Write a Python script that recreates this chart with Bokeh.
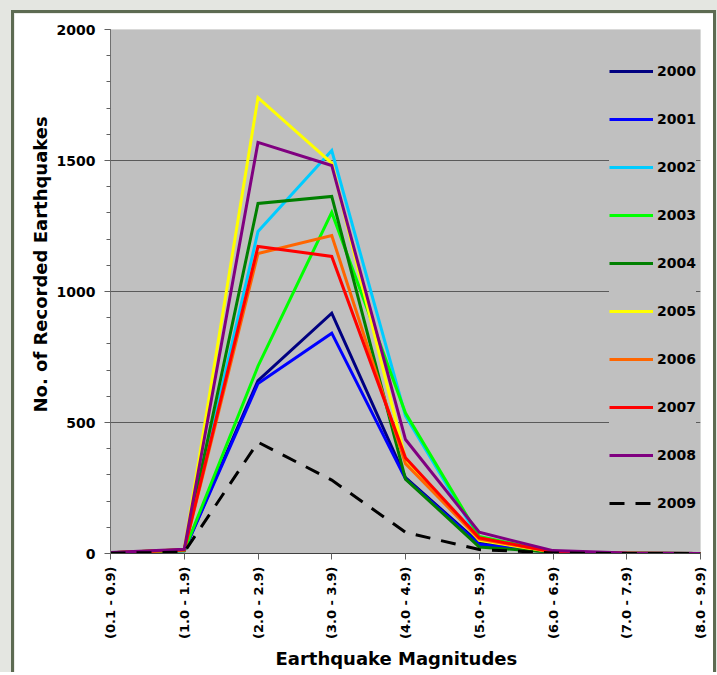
import math
from bokeh.plotting import figure
from bokeh.layouts import column
from bokeh.models import (FixedTicker, SingleIntervalTicker, Legend, LegendItem,
                          Title, Range1d)
from bokeh.embed import file_html
from bokeh.resources import INLINE

categories = ["(0.1 - 0.9)", "(1.0 - 1.9)", "(2.0 - 2.9)", "(3.0 - 3.9)", "(4.0 - 4.9)",
              "(5.0 - 5.9)", "(6.0 - 6.9)", "(7.0 - 7.9)", "(8.0 - 9.9)"]
years = ["2000", "2001", "2002", "2003", "2004", "2005", "2006", "2007", "2008", "2009"]

y2000 = [2, 12, 660, 917, 290, 40, 5, 1, 0]
y2001 = [2, 10, 649, 841, 285, 35, 4, 1, 0]
y2002 = [3, 14, 1229, 1538, 525, 55, 6, 1, 0]
y2003 = [2, 10, 715, 1302, 536, 65, 6, 1, 0]
y2004 = [3, 14, 1336, 1363, 284, 25, 5, 1, 0]
y2005 = [3, 15, 1740, 1490, 360, 50, 6, 1, 0]
y2006 = [3, 13, 1145, 1214, 343, 55, 6, 1, 0]
y2007 = [3, 14, 1172, 1134, 365, 60, 6, 1, 0]
y2008 = [4, 16, 1569, 1481, 435, 81, 11, 2, 0]
y2009 = [1, 5, 425, 280, 81, 15, 2, 0, 0]

series = [y2000, y2001, y2002, y2003, y2004, y2005, y2006, y2007, y2008, y2009]
colors = ["#000080", "#0000FF", "#00CCFF", "#00FF00", "#008000",
          "#FFFF00", "#FF6600", "#FF0000", "#800080", "#000000"]
dashes = ["solid"] * 9 + ["15 11"]

x = list(range(len(categories)))

FONT = "DejaVu Sans"

p = figure(width=705, height=662, output_backend="svg", toolbar_location=None,
           x_range=Range1d(0, len(categories) - 1), y_range=Range1d(0, 2000),
           min_border_left=96, min_border_right=19, min_border_top=16,
           min_border_bottom=122)
p.background_fill_color = "#c0c0c0"
p.border_fill_color = "white"
p.outline_line_color = None
p.styles = {"border-left": "3px solid #5d6b52", "border-top": "3px solid #5d6b52",
            "border-right": "3px solid #5d6b52"}

# grids
p.xgrid.visible = False
p.ygrid.ticker = FixedTicker(ticks=[500, 1000, 1500])
p.ygrid.grid_line_color = "#5a5a5a"
p.ygrid.grid_line_width = 1

# y axis
p.yaxis.ticker = SingleIntervalTicker(interval=500, num_minor_ticks=5)
p.yaxis.major_tick_out = 6
p.yaxis.major_tick_in = 0
p.yaxis.minor_tick_out = 4
p.yaxis.minor_tick_in = 0
p.yaxis.axis_line_color = "#707070"
p.yaxis.major_tick_line_color = "#606060"
p.yaxis.minor_tick_line_color = "#606060"
p.yaxis.major_label_standoff = 9
p.yaxis.major_label_text_font = FONT
p.yaxis.major_label_text_font_style = "bold"
p.yaxis.major_label_text_font_size = "14px"
p.yaxis.major_label_text_color = "black"

# x axis
p.xaxis.ticker = FixedTicker(ticks=x)
p.xaxis.major_label_overrides = {i: c for i, c in enumerate(categories)}
p.xaxis.major_label_orientation = math.pi / 2
p.xaxis.major_tick_out = 6
p.xaxis.major_tick_in = 0
p.xaxis.minor_tick_out = 0
p.xaxis.minor_tick_in = 0
p.xaxis.axis_line_color = "#404040"
p.xaxis.major_tick_line_color = "#606060"
p.xaxis.major_label_standoff = 7
p.xaxis.major_label_text_font = FONT
p.xaxis.major_label_text_font_style = "bold"
p.xaxis.major_label_text_font_size = "13px"
p.xaxis.major_label_text_color = "black"

# axis titles
ytitle = Title(text="No. of Recorded Earthquakes", align="left", offset=141,
               text_font=FONT, text_font_style="bold", text_font_size="18px",
               text_color="black", standoff=6)
p.add_layout(ytitle, "left")
xtitle = Title(text="Earthquake Magnitudes", align="left", offset=165,
               text_font=FONT, text_font_style="bold", text_font_size="18px",
               text_color="black", standoff=8)
p.add_layout(xtitle, "below")

items = []
for yr, ys, col, dash in zip(years, series, colors, dashes):
    r = p.line(x, ys, line_color=col, line_width=3, line_dash=dash, line_join="miter")
    items.append(LegendItem(label=yr, renderers=[r]))

legend = Legend(items=items, location=(499, 40), orientation="vertical",
                glyph_width=44, glyph_height=20, label_height=20, label_standoff=4,
                spacing=28, padding=9, margin=0,
                background_fill_color="#c0c0c0", background_fill_alpha=1,
                border_line_color=None,
                label_text_font=FONT, label_text_font_style="bold",
                label_text_font_size="14px", label_text_color="black")
p.add_layout(legend)

page = column(p, styles={"background-color": "#e4e6e1", "padding-left": "11px",
                         "padding-top": "10px", "padding-right": "1px"})

open("out.html", "w").write(file_html(page, INLINE))
